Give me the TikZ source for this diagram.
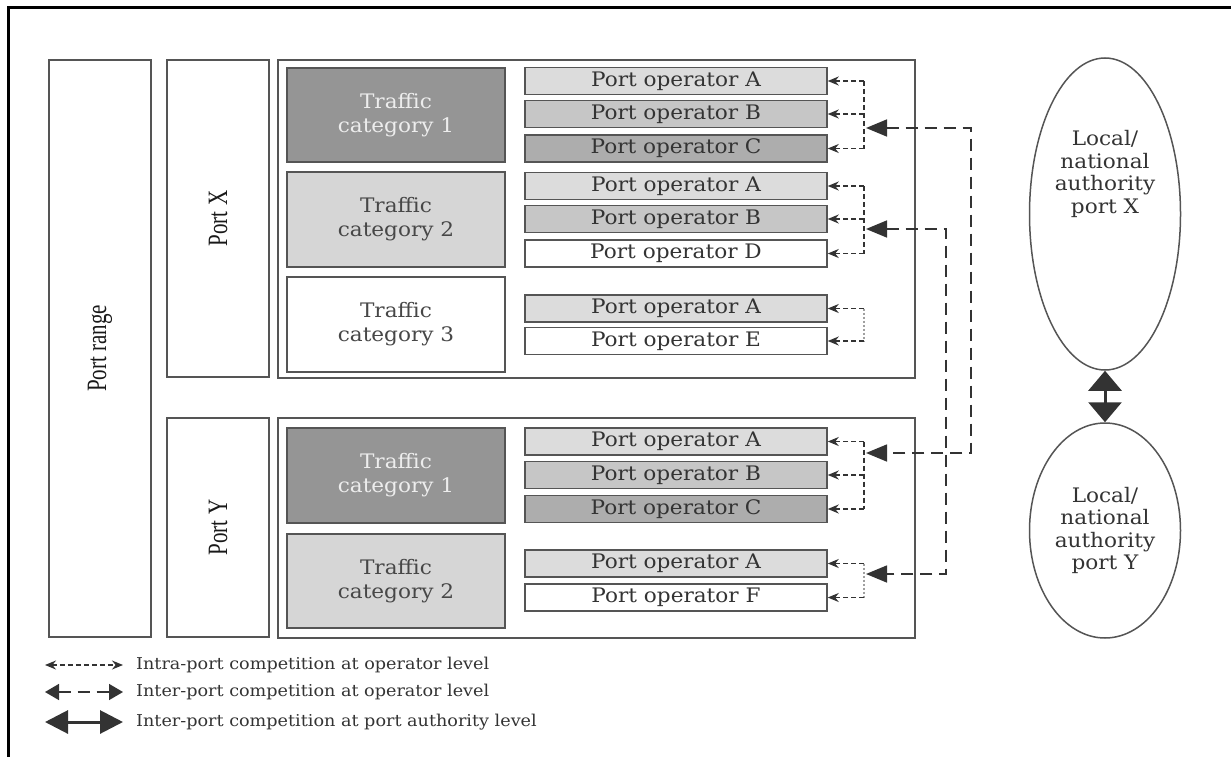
\documentclass[tikz,border=0pt]{standalone}
\usepackage{fontspec}
\setmainfont{DejaVu Serif}[FakeStretch=1.08]
\newfontfamily\condfont{Liberation Serif}[FakeStretch=0.75]
\usetikzlibrary{arrows.meta,shapes.geometric,calc}

\definecolor{edge}{HTML}{555555}
\definecolor{ink}{HTML}{333333}
\definecolor{catdark}{HTML}{959595}
\definecolor{catlight}{HTML}{D6D6D6}
\definecolor{opfillA}{HTML}{DCDCDC}
\definecolor{opfillB}{HTML}{C6C6C6}
\definecolor{opfillC}{HTML}{ADADAD}
\definecolor{dotgray}{HTML}{A0A0A0}

\tikzset{
  smalltip/.tip={Stealth[length=11pt,width=9pt]},
  midtip/.tip={Triangle[length=14pt,width=16pt]},
  bigtip/.tip={Triangle[length=21pt,width=17pt]},
  frame/.style={draw=black, line width=3pt},
  box/.style={draw=edge, line width=1.5pt, rectangle, inner sep=0pt},
  sidebox/.style={box, minimum width=102pt},
  region/.style={box, minimum width=637pt},
  catbox/.style={box, minimum width=218pt, align=center,
    font=\fontsize{20}{24}\selectfont, text=ink!90},
  catdarkbox/.style={catbox, fill=catdark, text=white!93!black},
  catlightbox/.style={catbox, fill=catlight},
  opbox/.style={box, minimum width=302pt, minimum height=27pt,
    font=\fontsize{20}{24}\selectfont, text=ink},
  sidelabel/.style={rotate=90, font=\condfont\fontsize{28}{30}\selectfont, text=black!90},
  authority/.style={draw=edge, line width=1.5pt, ellipse, inner sep=0pt, minimum width=151pt},
  authtext/.style={align=center, font=\fontsize{20}{22.5}\selectfont, text=ink},
  intra/.style={draw=ink, line width=1.5pt, dash pattern=on 5pt off 3pt},
  intratip/.style={intra, -smalltip},
  intradots/.style={draw=dotgray, line width=2.6pt, dash pattern=on 2.5pt off 1.5pt},
  inter/.style={draw=ink, line width=1.6pt, dash pattern=on 12pt off 7pt, bigtip-bigtip},
  authlink/.style={draw=ink, line width=3pt,
    {Triangle[length=20pt,width=33pt]}-{Triangle[length=20pt,width=33pt]}},
  legendtext/.style={anchor=west, inner sep=0pt, font=\fontsize{16.3}{19}\selectfont, text=ink},
}

\begin{document}
\begin{tikzpicture}[x=1pt, y=-1pt]
\useasboundingbox (0,0) rectangle (1231,757);

% outer frame (top and left edges)
\draw[frame] (1231,8) -- (8,8) -- (8,757);

% left columns
\node[sidebox, minimum height=577pt] (range) at (100,348.5) {};
\node[sidelabel] (rangelbl) at (range.center) {Port range};
\node[sidebox, minimum height=317pt] (portX) at (218,218.5) {};
\node[sidelabel] (portXlbl) at (portX.center) {Port X};
\node[sidebox, minimum height=219pt] (portY) at (218,527.5) {};
\node[sidelabel] (portYlbl) at (portY.center) {Port Y};

% port regions
\node[region, minimum height=318pt] (regX) at (596.5,219) {};
\node[region, minimum height=220pt] (regY) at (596.5,528) {};

% traffic categories
\node[catdarkbox, minimum height=94pt] (cX1) at (396,115) {Traffic\\category 1};
\node[catlightbox, minimum height=95pt] (cX2) at (396,219.5) {Traffic\\category 2};
\node[catbox, minimum height=95pt] (cX3) at (396,324.5) {Traffic\\category 3};
\node[catdarkbox, minimum height=95pt] (cY1) at (396,475.5) {Traffic\\category 1};
\node[catlightbox, minimum height=94pt] (cY2) at (396,581) {Traffic\\category 2};

% port operators
\node[opbox, fill=opfillA] (xA1) at (676,81)    {Port operator A};
\node[opbox, fill=opfillB] (xB1) at (676,114)   {Port operator B};
\node[opbox, fill=opfillC] (xC1) at (676,148.5) {Port operator C};
\node[opbox, fill=opfillA] (xA2) at (676,186)   {Port operator A};
\node[opbox, fill=opfillB] (xB2) at (676,219)   {Port operator B};
\node[opbox, fill=white]   (xD2) at (676,253.5) {Port operator D};
\node[opbox, fill=opfillA] (xA3) at (676,308.5) {Port operator A};
\node[opbox, fill=white]   (xE3) at (676,341)   {Port operator E};
\node[opbox, fill=opfillA] (yA1) at (676,441.5) {Port operator A};
\node[opbox, fill=opfillB] (yB1) at (676,475)   {Port operator B};
\node[opbox, fill=opfillC] (yC1) at (676,509)   {Port operator C};
\node[opbox, fill=opfillA] (yA2) at (676,563.5) {Port operator A};
\node[opbox, fill=white]   (yF2) at (676,597.5) {Port operator F};

% junction line and inter-port arrow tips
\coordinate (jx) at (864,0);
\coordinate (tX1) at (866,128);
\coordinate (tX2) at (866,229);
\coordinate (tY1) at (866,453);
\coordinate (tY2) at (866,574);

% intra-port competition
\foreach \a/\b/\mid in {xA1/xC1/xB1, xA2/xD2/xB2, yA1/yC1/yB1} {
  \draw[intra] (\a.east -| jx) -- (\b.east -| jx);
  \foreach \o in {\a,\mid,\b} \draw[intratip] (\o.east -| jx) -- (\o.east);
}
\foreach \a/\b in {xA3/xE3, yA2/yF2} {
  \draw[intradots] (\a.east -| jx) -- (\b.east -| jx);
  \foreach \o in {\a,\b} \draw[intratip] (\o.east -| jx) -- (\o.east);
}

% inter-port competition at operator level
\draw[inter] (tX1) -- ++(105,0) |- (tY1);
\draw[inter] (tX2) -- ++(80,0) |- (tY2);

% authorities
\node[authority, minimum height=312pt] (authX) at (1105,214) {};
\node[authtext] (authXlbl) at (1105,174) {Local/\\national\\authority\\port X};
\node[authority, minimum height=215pt] (authY) at (1105,530.5) {};
\node[authtext] (authYlbl) at (authY.center) {Local/\\national\\authority\\port Y};
\draw[authlink] (authX.south) -- (authY.north);

% legend
\coordinate (la1) at (45,665);  \coordinate (lb1) at (123,665);
\coordinate (la2) at (45,692);  \coordinate (lb2) at (123,692);
\coordinate (la3) at (45,722);  \coordinate (lb3) at (123,722);
\draw[intra, smalltip-smalltip] (la1) -- (lb1);
\draw[draw=ink, line width=1.6pt, dash pattern=on 12pt off 7pt, midtip-midtip] (la2) -- (lb2);
\draw[draw=ink, line width=3pt,
  {Triangle[length=23pt,width=23pt]}-{Triangle[length=23pt,width=23pt]}] (la3) -- (lb3);
\node[legendtext] (lt1) at (136,665) {Intra-port competition at operator level};
\node[legendtext] (lt2) at (136,692) {Inter-port competition at operator level};
\node[legendtext] (lt3) at (136,722) {Inter-port competition at port authority level};
\end{tikzpicture}
\end{document}
